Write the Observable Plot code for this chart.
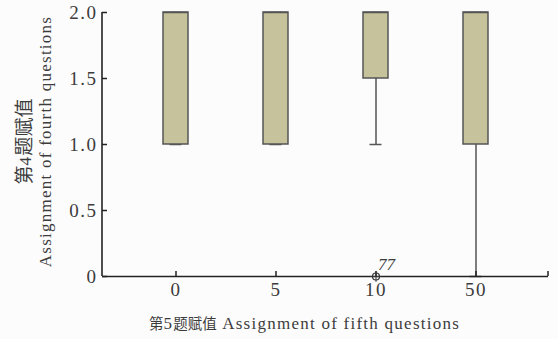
<!DOCTYPE html>
<html>
<head>
<meta charset="utf-8">
<script src="https://cdn.jsdelivr.net/npm/d3@7"></script>
<script src="https://cdn.jsdelivr.net/npm/@observablehq/plot@0.6"></script>
<style>
  html, body { margin: 0; padding: 0; background: #fcfcfc; }
  #chart svg { display: block; }
</style>
</head>
<body>
<div id="chart"></div>
<script>
// Fifth-question assignment groups on x, fourth-question assignment on y
const groups   = ["0", "5", "10", "50"];
const q1       = [1.0, 1.0, 1.5, 1.0];
const medians  = [2.0, 2.0, 2.0, 2.0];
const q3       = [2.0, 2.0, 2.0, 2.0];
const whiskLo  = [1.0, 1.0, 1.0, 0.0];
const whiskHi  = [2.0, 2.0, 2.0, 2.0];

// Outliers, labelled with case number
const outGroups = ["10"];
const outValues = [0];
const outLabels = ["77"];

const yTicks      = [0, 0.5, 1.0, 1.5, 2.0];
const yTickLabels = ["0", "0.5", "1.0", "1.5", "2.0"];

const xTitle = "第5题赋值 Assignment of fifth questions";
const yTitle = "第4题赋值\nAssignment of fourth questions";

const boxes = groups.map((g, i) => ({
  group: g, q1: q1[i], median: medians[i], q3: q3[i], lo: whiskLo[i], hi: whiskHi[i]
}));
const outliers = outGroups.map((g, i) => ({group: g, value: outValues[i], label: outLabels[i]}));

const ink = "#3c3c3c";
const axisInk = "#222";
const boxInk = "#555";
const W = 558, H = 339;
const mL = 102, mR = 10, mT = 12, mB = 63;

const chart = Plot.plot({
  width: W,
  height: H,
  marginLeft: mL,
  marginRight: mR,
  marginTop: mT,
  marginBottom: mB,
  style: {fontFamily: "'Liberation Serif', 'Noto Sans CJK SC', serif", fontSize: "19px", color: ink, background: "transparent", overflow: "visible"},
  x: {type: "band", domain: groups, paddingInner: 0.75, paddingOuter: 0.6, label: null},
  y: {domain: [0, 2], label: null},
  marks: [
    // whiskers and caps
    Plot.ruleX(boxes, {x: "group", y1: "lo", y2: "q1", stroke: boxInk, strokeWidth: 1.5}),
    Plot.ruleX(boxes, {x: "group", y1: "q3", y2: "hi", stroke: boxInk, strokeWidth: 1.5}),
    Plot.tickY(boxes, {x: "group", y: "lo", stroke: boxInk, strokeWidth: 1.5, insetLeft: 6.5, insetRight: 6.5}),
    Plot.tickY(boxes, {x: "group", y: "hi", stroke: boxInk, strokeWidth: 1.5, insetLeft: 6.5, insetRight: 6.5}),
    // boxes and medians
    Plot.barY(boxes, {x: "group", y1: "q1", y2: "q3", fill: "#c6c29b", stroke: boxInk, strokeWidth: 1.5}),
    Plot.tickY(boxes, {x: "group", y: "median", stroke: boxInk, strokeWidth: 1.5}),
    // bottom axis line
    Plot.ruleY([0], {stroke: axisInk, strokeWidth: 1.6}),
    Plot.axisY(yTicks, {tickSize: -5, tickPadding: 10, tickFormat: (d, i) => yTickLabels[i], stroke: axisInk, strokeWidth: 1.5, fill: ink, fontSize: 19, label: null}),
    Plot.axisX(groups, {tickSize: -5, tickPadding: 11, stroke: axisInk, strokeWidth: 1.5, fill: ink, fontSize: 19, label: null}),
    // outliers
    Plot.dot(outliers, {x: "group", y: "value", r: 3.5, stroke: "#333", strokeWidth: 1.2, fill: "none"}),
    Plot.dot(outliers, {x: "group", y: "value", r: 3.5, symbol: "plus", stroke: "#333", strokeWidth: 1, fill: "none"}),
    Plot.text(outliers, {x: "group", y: "value", text: "label", dx: 2, dy: -12, textAnchor: "start", fontStyle: "italic", fontSize: 17, fill: ink}),
    // axis titles
    Plot.text([xTitle], {frameAnchor: "bottom", textAnchor: "middle", dx: -21, dy: 52, fontSize: 17, fill: ink}),
    Plot.text([yTitle], {frameAnchor: "left", textAnchor: "middle", lineAnchor: "middle", dx: -68, dy: -3, rotate: -90, lineHeight: 1.2, fontSize: 17, fill: ink})
  ]
});

const svg = d3.select(chart);
const y = chart.scale("y");

// left axis line, drawn from the y scale's extent
svg.append("line")
  .attr("x1", mL).attr("x2", mL)
  .attr("y1", y.apply(2)).attr("y2", y.apply(0))
  .attr("stroke", axisInk).attr("stroke-width", 1.6);

// small end cap on the right of the x axis line
svg.append("line")
  .attr("x1", W - mR).attr("x2", W - mR)
  .attr("y1", y.apply(0)).attr("y2", y.apply(0) - 5)
  .attr("stroke", axisInk).attr("stroke-width", 1.5);

// wider spacing on tick labels
svg.selectAll("g[aria-label$='tick label'] text").style("letter-spacing", "1.5px");

// mixed-script titles: CJK runs and Latin runs get their own sizes
const cjkRun = /[\u3000-\u9fff]+|[^\u3000-\u9fff]+/g;
function splitRuns(node, cjkSize, latinSize, spacing) {
  const runs = node.textContent.match(cjkRun) || [];
  node.textContent = "";
  for (const r of runs) {
    const t = document.createElementNS("http://www.w3.org/2000/svg", "tspan");
    t.textContent = r;
    if (/[\u3000-\u9fff]/.test(r)) {
      t.style.fontSize = cjkSize + "px";
      t.style.fontFamily = "'Noto Sans CJK SC'";
      t.style.letterSpacing = "0px";
    } else {
      t.style.fontSize = latinSize + "px";
      t.style.letterSpacing = spacing + "px";
    }
    node.appendChild(t);
  }
}
svg.selectAll("text").each(function() {
  const txt = this.textContent;
  if (txt.includes("fifth")) splitRuns(this, 14.5, 17, 1.25);
  if (txt.includes("fourth")) {
    d3.select(this).selectAll("tspan").each(function() {
      splitRuns(this, 19, 17, 1.25);
    });
  }
});

document.getElementById("chart").appendChild(chart);
</script>
</body>
</html>
